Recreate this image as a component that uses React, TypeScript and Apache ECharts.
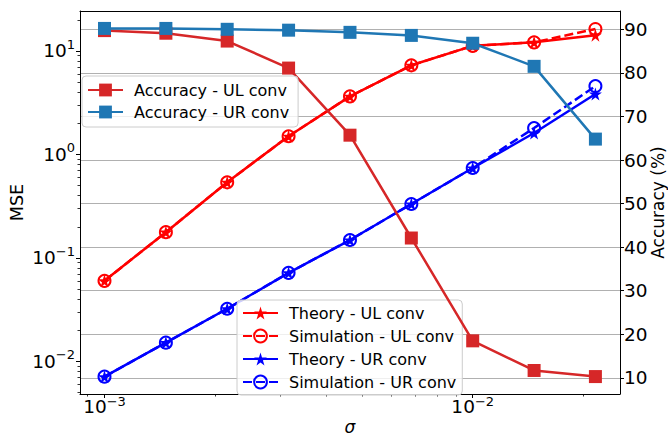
import { useEffect, useRef } from 'react';
import * as echarts from 'echarts';

// ---- data ----
const SIGMA = [0.001, 0.001468, 0.002154, 0.003162, 0.004642, 0.006813, 0.01, 0.01468, 0.02154];
const MSE_THEORY_UL = [0.0601, 0.1775, 0.538, 1.5, 3.64, 7.26, 11.2, 12.1, 14.2];
const MSE_SIM_UL = [0.0601, 0.1775, 0.538, 1.5, 3.64, 7.26, 11.2, 12.1, 16.3];
const MSE_THEORY_UR = [0.00713, 0.0152, 0.0323, 0.0718, 0.149, 0.332, 0.739, 1.61, 3.83];
const MSE_SIM_UR = [0.00713, 0.0152, 0.0323, 0.0718, 0.149, 0.332, 0.739, 1.8, 4.57];
const ACC_UL = [89.7, 89.1, 87.3, 81.1, 65.7, 42.1, 18.5, 11.7, 10.3];
const ACC_UR = [90.2, 90.2, 90.0, 89.8, 89.3, 88.6, 86.8, 81.5, 64.8];

const X_TICKS = [0.001, 0.01];
const X_TICK_EXP = ['−3', '−2'];
const X_MINOR = [0.0009, 0.002, 0.003, 0.004, 0.005, 0.006, 0.007, 0.008, 0.009, 0.02];
const MSE_TICKS = [0.01, 0.1, 1, 10];
const MSE_TICK_EXP = ['−2', '−1', '0', '1'];
const MSE_MINOR = [
  0.005, 0.006, 0.007, 0.008, 0.009,
  0.02, 0.03, 0.04, 0.05, 0.06, 0.07, 0.08, 0.09,
  0.2, 0.3, 0.4, 0.5, 0.6, 0.7, 0.8, 0.9,
  2, 3, 4, 5, 6, 7, 8, 9, 20,
];
const ACC_TICKS = [10, 20, 30, 40, 50, 60, 70, 80, 90];

const STAR =
  'path://M50 0 L61.23 34.55 L97.55 34.55 L68.17 55.9 L79.39 90.45 L50 69.1 L20.61 90.45 L31.83 55.9 L2.45 34.55 L38.77 34.55 Z';
const FONT = 'DejaVu Sans';

const pairs = (ys: number[]) => SIGMA.map((s, i) => [s, ys[i]]);

const supFormatter = (ticks: number[], exps: string[]) => (v: number) => {
  const i = ticks.findIndex((t) => Math.abs(Math.log10(t) - Math.log10(v)) < 1e-6);
  if (i < 0) return '';
  return `{b|10}{s|${exps[i]}}`;
};

const yRich = {
  b: { fontSize: 18.5, lineHeight: 26, fontFamily: FONT, color: '#000' },
  s: { fontSize: 13, lineHeight: 13, verticalAlign: 'top', fontFamily: FONT, color: '#000' },
};
const xRich = {
  b: { fontSize: 18.5, lineHeight: 22, fontFamily: FONT, color: '#000' },
  s: { fontSize: 13, lineHeight: 12, verticalAlign: 'top', fontFamily: FONT, color: '#000' },
};

const axisLine = { show: true, onZero: false, lineStyle: { color: '#000', width: 1 } };

export default function App() {
  const ref = useRef<HTMLDivElement>(null);
  useEffect(() => {
    if (!ref.current) return;
    const chart = echarts.init(ref.current, undefined, { renderer: 'svg' });
    const legendBox = {
      orient: 'vertical',
      itemWidth: 35,
      itemHeight: 16,
      backgroundColor: 'rgba(255,255,255,0.8)',
      borderColor: '#cccccc',
      borderWidth: 1,
      borderRadius: 4,
      selectedMode: false,
      textStyle: { fontSize: 16, fontFamily: FONT, color: '#000', lineHeight: 16, padding: [0, 0, 0, 6] },
    };
    chart.setOption({
      animation: false,
      backgroundColor: '#fff',
      grid: { left: 80, right: 48, top: 11, bottom: 42, containLabel: false, outerBoundsMode: 'none' },
      xAxis: [
        {
          type: 'log',
          position: 'bottom',
          min: 0.000858,
          max: 0.02512,
          name: 'σ',
          nameLocation: 'middle',
          nameGap: 24,
          nameMoveOverlap: false,
          nameTextStyle: { fontSize: 17, lineHeight: 17, fontFamily: FONT, fontStyle: 'italic', color: '#000' },
          axisLine,
          axisTick: { show: true, inside: false, length: 4, customValues: X_TICKS, lineStyle: { color: '#000', width: 1 } },
          axisLabel: {
            customValues: X_TICKS,
            formatter: supFormatter(X_TICKS, X_TICK_EXP),
            rich: xRich,
            margin: 1,
          },
          splitLine: { show: false },
        },
        {
          type: 'log',
          position: 'bottom',
          min: 0.000858,
          max: 0.02512,
          axisLine: { show: false },
          axisTick: { show: true, length: 2.5, customValues: X_MINOR, lineStyle: { color: '#000', width: 0.8 } },
          axisLabel: { show: false },
          splitLine: { show: false },
        },
        {
          type: 'log',
          position: 'top',
          min: 0.000858,
          max: 0.02512,
          axisLine,
          axisTick: { show: false },
          axisLabel: { show: false },
          splitLine: { show: false },
        },
      ],
      yAxis: [
        {
          type: 'log',
          position: 'left',
          min: 0.00485,
          max: 24.3,
          name: 'MSE',
          nameLocation: 'middle',
          nameGap: 54,
          nameMoveOverlap: false,
          nameTextStyle: { fontSize: 17.5, lineHeight: 18, fontFamily: FONT, color: '#000' },
          axisLine,
          axisTick: { show: true, length: 4, customValues: MSE_TICKS, lineStyle: { color: '#000', width: 1 } },
          axisLabel: {
            customValues: MSE_TICKS,
            formatter: supFormatter(MSE_TICKS, MSE_TICK_EXP),
            rich: yRich,
            margin: 5,
          },
          splitLine: { show: false },
        },
        {
          type: 'value',
          position: 'right',
          min: 6.3,
          max: 94.2,
          name: 'Accuracy (%)',
          nameLocation: 'middle',
          nameGap: 29,
          nameMoveOverlap: false,
          nameTextStyle: { fontSize: 17, lineHeight: 17, fontFamily: FONT, color: '#000' },
          axisLine,
          axisTick: { show: true, length: 4, customValues: ACC_TICKS, lineStyle: { color: '#000', width: 1 } },
          axisLabel: {
            customValues: ACC_TICKS,
            fontSize: 18.5,
            fontFamily: FONT,
            color: '#000',
            margin: 4,
          },
          splitLine: { show: true, lineStyle: { color: '#b0b0b0', width: 1 } },
        },
        {
          type: 'log',
          position: 'left',
          min: 0.00485,
          max: 24.3,
          axisLine: { show: false },
          axisTick: { show: true, length: 2.5, customValues: MSE_MINOR, lineStyle: { color: '#000', width: 0.8 } },
          axisLabel: { show: false },
          splitLine: { show: false },
        },
      ],
      legend: [
        {
          ...legendBox,
          left: 82,
          top: 76,
          itemGap: 6,
          padding: [6, 9, 7, 5],
          z: 5,
          data: ['Accuracy - UL conv', 'Accuracy - UR conv'],
        },
        {
          ...legendBox,
          left: 237,
          top: 300,
          itemGap: 7,
          padding: [5, 6, 5, 5],
          z: 3,
          data: ['Theory - UL conv', 'Simulation - UL conv', 'Theory - UR conv', 'Simulation - UR conv'],
        },
      ],
      series: [
        {
          name: 'Theory - UL conv',
          type: 'line',
          xAxisIndex: 0,
          yAxisIndex: 0,
          data: pairs(MSE_THEORY_UL),
          symbol: STAR,
          symbolSize: 13,
          itemStyle: { color: '#ff0000' },
          lineStyle: { color: '#ff0000', width: 2.5 },
          z: 2,
        },
        {
          name: 'Simulation - UL conv',
          type: 'line',
          xAxisIndex: 0,
          yAxisIndex: 0,
          data: pairs(MSE_SIM_UL),
          symbol: 'circle',
          symbolSize: 12,
          itemStyle: { color: 'rgba(255,0,0,0)', borderColor: '#ff0000', borderWidth: 2 },
          lineStyle: { color: '#ff0000', width: 2.5, type: [9, 4] },
          z: 2,
        },
        {
          name: 'Theory - UR conv',
          type: 'line',
          xAxisIndex: 0,
          yAxisIndex: 0,
          data: pairs(MSE_THEORY_UR),
          symbol: STAR,
          symbolSize: 13,
          itemStyle: { color: '#0000ff' },
          lineStyle: { color: '#0000ff', width: 2.5 },
          z: 2,
        },
        {
          name: 'Simulation - UR conv',
          type: 'line',
          xAxisIndex: 0,
          yAxisIndex: 0,
          data: pairs(MSE_SIM_UR),
          symbol: 'circle',
          symbolSize: 12,
          itemStyle: { color: 'rgba(0,0,255,0)', borderColor: '#0000ff', borderWidth: 2 },
          lineStyle: { color: '#0000ff', width: 2.5, type: [9, 4] },
          z: 2,
        },
        {
          name: 'Accuracy - UL conv',
          type: 'line',
          xAxisIndex: 0,
          yAxisIndex: 1,
          data: pairs(ACC_UL),
          symbol: 'rect',
          symbolSize: 13,
          itemStyle: { color: '#d62728' },
          lineStyle: { color: '#d62728', width: 2.5 },
          z: 4,
        },
        {
          name: 'Accuracy - UR conv',
          type: 'line',
          xAxisIndex: 0,
          yAxisIndex: 1,
          data: pairs(ACC_UR),
          symbol: 'rect',
          symbolSize: 13,
          itemStyle: { color: '#1f77b4' },
          lineStyle: { color: '#1f77b4', width: 2.5 },
          z: 4,
        },
      ],
    });
    return () => chart.dispose();
  }, []);
  return (
    <div
      ref={ref}
      style={{ position: 'fixed', left: 0, top: 0, width: 668, height: 436 }}
    />
  );
}
